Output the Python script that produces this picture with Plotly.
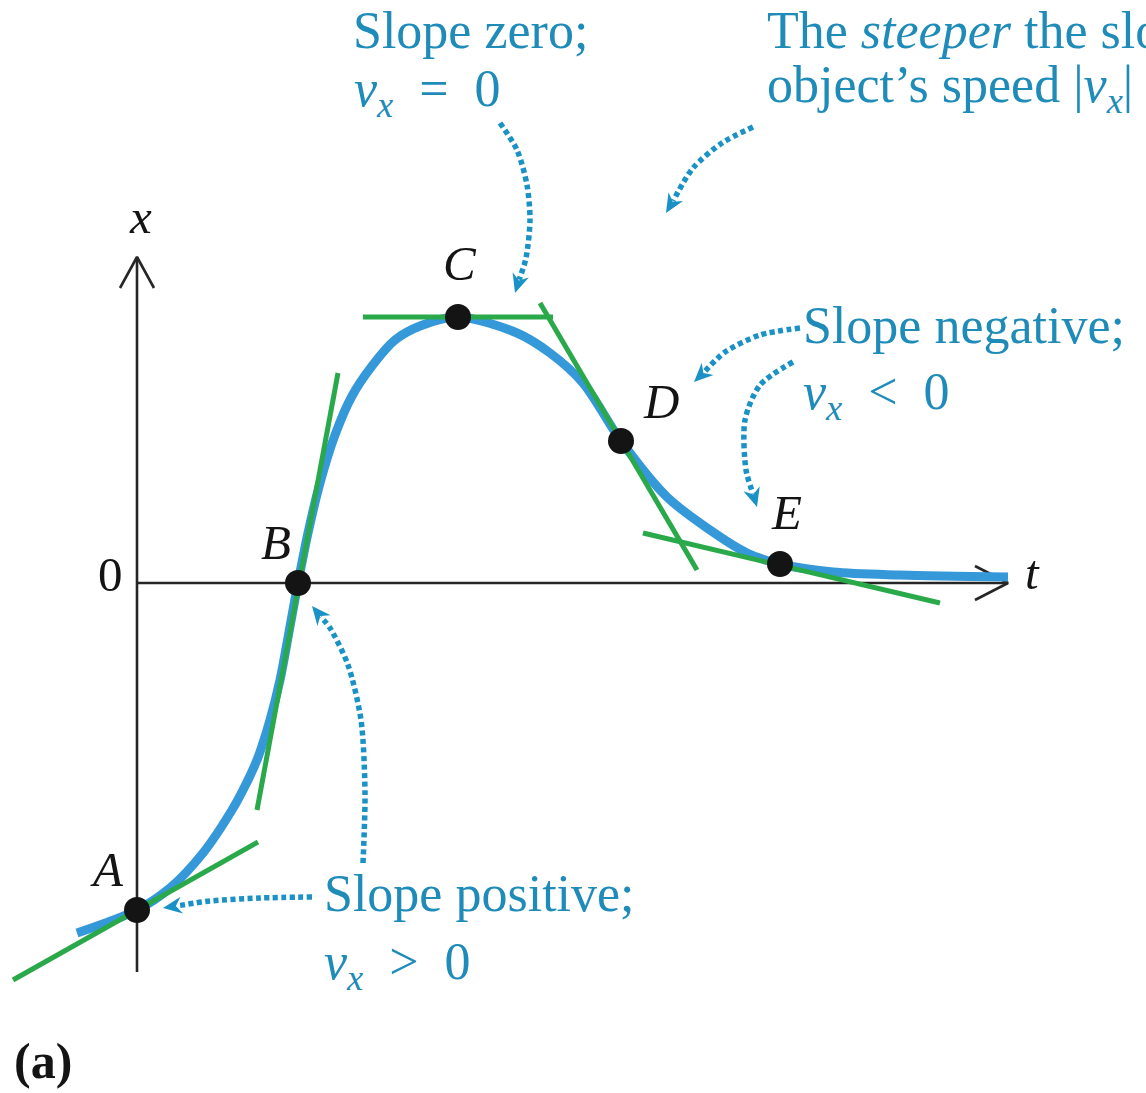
import numpy as np
import plotly.graph_objects as go

# ---------------- data (t, x in arbitrary units; origin where the axes cross) ----------------
curve_t = [-0.60, 0.00, 0.33, 0.66, 0.95, 1.06, 1.20, 1.33, 1.43, 1.52, 1.61, 1.71, 1.83, 1.98,
           2.15, 2.35, 2.58, 2.83, 3.21, 3.80, 4.13, 4.46, 4.84, 5.30, 5.73, 6.10, 6.43,
           6.96, 7.63, 8.71]
curve_x = [-3.50, -3.27, -3.05, -2.70, -2.27, -2.07, -1.77, -1.37, -0.97, -0.49, 0.00, 0.50,
           1.00, 1.48, 1.87, 2.17, 2.43, 2.57, 2.66, 2.50, 2.30, 2.00, 1.42, 0.86, 0.53,
           0.30, 0.19, 0.11, 0.08, 0.06]

point_labels = ["A", "B", "C", "D", "E"]
point_t = [0.00, 1.61, 3.21, 4.84, 6.43]
point_x = [-3.27, 0.00, 2.66, 1.42, 0.19]

# tangent line segments at each labelled point
tangent_t0 = [-1.24, 1.20, 2.26, 4.03, 5.06]
tangent_x0 = [-3.97, -2.27, 2.66, 2.80, 0.50]
tangent_t1 = [1.21, 2.01, 4.16, 5.60, 8.03]
tangent_x1 = [-2.59, 2.10, 2.66, 0.13, -0.20]

# axis extents
t_axis_end = 8.71
x_axis_top = 3.26
x_axis_bottom = -3.89

# ---------------- page geometry helpers ----------------
W, H = 1146, 1093
OX, OY, S = 137, 583, 100.0


def P(px, py):
    return ((px - OX) / S, (OY - py) / S)


def paper(px, py):
    return (px / W, 1 - py / H)


TEXT_BLUE = "#1f8bb8"
ARROW_BLUE = "#1b92c6"
CURVE_BLUE = "#3598d9"
GREEN = "#2aa94b"
AXIS = "#262626"
FONT = "Liberation Serif"
FS = 52

fig = go.Figure()

# axes
fig.add_trace(go.Scatter(x=[0, t_axis_end], y=[0, 0], mode="lines",
                         line=dict(color=AXIS, width=2.6), hoverinfo="skip"))
fig.add_trace(go.Scatter(x=[0, 0], y=[x_axis_bottom, x_axis_top], mode="lines",
                         line=dict(color=AXIS, width=2.6), hoverinfo="skip"))
# open arrowheads on axes
for pts in ([(975, 566), (1008, 583), (975, 600)], [(120, 288), (137, 257), (154, 288)]):
    xs, ys = zip(*[P(*p) for p in pts])
    fig.add_trace(go.Scatter(x=xs, y=ys, mode="lines",
                             line=dict(color=AXIS, width=2.6), hoverinfo="skip"))

# the x-t curve
fig.add_trace(go.Scatter(x=curve_t, y=curve_x, mode="lines",
                         line=dict(color=CURVE_BLUE, width=9, shape="spline", smoothing=0.9),
                         hoverinfo="skip"))

# tangent lines
for a, b, c, d in zip(tangent_t0, tangent_x0, tangent_t1, tangent_x1):
    fig.add_trace(go.Scatter(x=[a, c], y=[b, d], mode="lines",
                             line=dict(color=GREEN, width=5), hoverinfo="skip"))

# points
fig.add_trace(go.Scatter(x=point_t, y=point_x, mode="markers",
                         marker=dict(color="#141414", size=26), hoverinfo="skip"))

annotations = []

# dotted curved arrows (pixel paths, last point is the arrow tip)
arrow_paths = [
    [(500, 123), (517, 150), (527, 185), (530, 220), (526, 258), (515, 293)],   # to C
    [(753, 127), (722, 143), (693, 168), (666, 213)],                             # steeper
    [(800, 328), (760, 335), (725, 352), (694, 382)],                             # to D
    [(793, 362), (760, 385), (745, 420), (746, 470), (757, 507)],                 # to E
    [(363, 863), (365, 793), (361, 720), (348, 665), (330, 628), (312, 606)],     # to B
    [(312, 897), (260, 898), (210, 901), (163, 908)],                             # to A
]
HEAD_L, HEAD_W, NOTCH = 19.0, 8.5, 6.0
for path in arrow_paths:
    arr = np.array(path, dtype=float)
    tip = arr[-1]
    d = arr[-1] - arr[-2]
    d = d / np.linalg.norm(d)
    n = np.array([-d[1], d[0]])
    notch = tip - (HEAD_L - NOTCH) * d
    line_end = notch - 1.0 * d
    pts = np.vstack([arr[:-1], line_end])
    xs, ys = zip(*[P(px, py) for px, py in pts])
    fig.add_trace(go.Scatter(x=xs, y=ys, mode="lines",
                             line=dict(color=ARROW_BLUE, width=5.5, dash="5px,3.5px",
                                       shape="spline", smoothing=0.8),
                             hoverinfo="skip"))
    back = tip - HEAD_L * d
    head = [tip, back + HEAD_W * n, notch, back - HEAD_W * n, tip]
    hx, hy = zip(*[P(px, py) for px, py in head])
    fig.add_trace(go.Scatter(x=hx, y=hy, mode="lines", fill="toself",
                             fillcolor=ARROW_BLUE, line=dict(width=0, color=ARROW_BLUE),
                             hoverinfo="skip"))


def text_at(px_left, baseline, txt, color=TEXT_BLUE, size=FS, anchor="left"):
    top = baseline - 1.0 * size - 1
    x, y = paper(px_left, top)
    annotations.append(dict(x=x, y=y, xref="paper", yref="paper", text=txt, showarrow=False,
                            xanchor=anchor, yanchor="top",
                            font=dict(family=FONT, size=size, color=color)))


vx = "<i>v</i><sub><i>x</i></sub>"
sp = "\u00a0"
text_at(351, 53, "Slope zero;")
text_at(352, 111, vx + sp + " = " + sp + "0")
text_at(765, 53, "The <i>steeper</i> the slope, the greater the")
text_at(765, 107, "object\u2019s speed |" + vx + "|")
text_at(801, 348, "Slope negative;")
text_at(801, 414, vx + sp + " < " + sp + "0")
text_at(322, 916, "Slope positive;")
text_at(322, 984, vx + sp + " > " + sp + "0")

# point labels and axis labels
labels = [(107, 890, "<i>A</i>"), (276, 563, "<i>B</i>"), (460, 284, "<i>C</i>"),
          (661, 422, "<i>D</i>"), (786, 533, "<i>E</i>"), (140, 237, "<i>x</i>"),
          (1032, 593, "<i>t</i>"), (110, 595, "0")]
for cx, base, txt in labels:
    text_at(cx, base, txt, color="#141414", size=49, anchor="center")
text_at(43, 1082, "<b>(a)</b>", color="#141414", size=50, anchor="center")

x0, _ = P(0, 0)
x1, _ = P(W, 0)
_, y0 = P(0, H)
_, y1 = P(0, 0)

fig.update_layout(
    width=W, height=H,
    margin=dict(l=0, r=0, t=0, b=0),
    paper_bgcolor="white", plot_bgcolor="white",
    showlegend=False,
    xaxis=dict(range=[x0, x1], visible=False, fixedrange=True),
    yaxis=dict(range=[y0, y1], visible=False, fixedrange=True),
    annotations=annotations,
)

fig.write_html("out.html",
               config={"displayModeBar": False, "staticPlot": True},
               post_script="document.body.style.margin='0';document.body.style.overflow='hidden';")
